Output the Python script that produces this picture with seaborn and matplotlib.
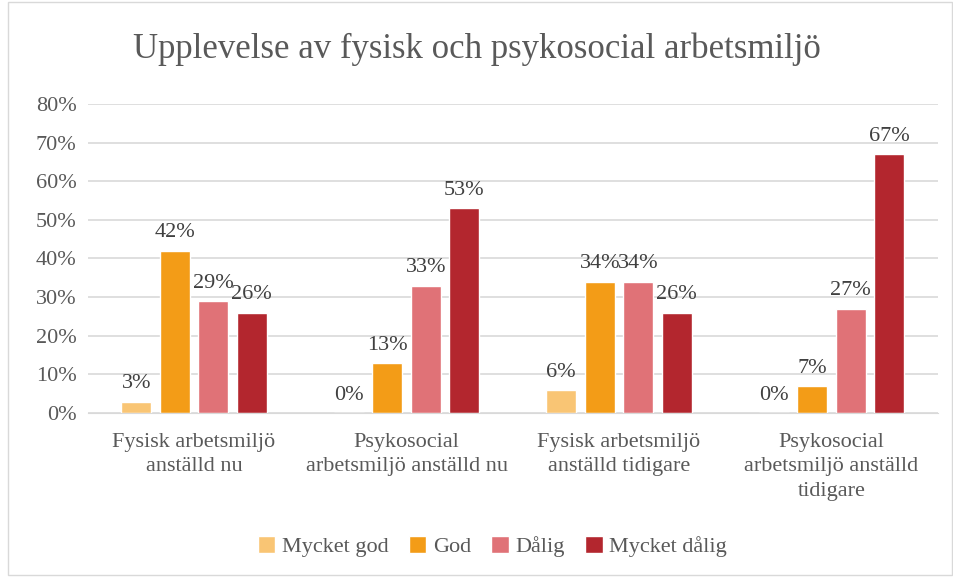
import matplotlib
matplotlib.use("Agg")
import matplotlib.pyplot as plt
import seaborn as sns
import pandas as pd

# categories and values (percent)
categories = ["Fysisk arbetsmiljö\nanställd nu",
              "Psykosocial\narbetsmiljö anställd nu",
              "Fysisk arbetsmiljö\nanställd tidigare",
              "Psykosocial\narbetsmiljö anställd\ntidigare"]
series = ["Mycket god", "God", "Dålig", "Mycket dålig"]
mycket_god = [3, 0, 6, 0]
god = [42, 13, 34, 7]
dalig = [29, 33, 34, 27]
mycket_dalig = [26, 53, 26, 67]
colors = ["#F9C574", "#F39C17", "#E07277", "#B3262E"]

rows = []
for s, vals in zip(series, [mycket_god, god, dalig, mycket_dalig]):
    for c, v in zip(categories, vals):
        rows.append({"kategori": c, "serie": s, "andel": v})
df = pd.DataFrame(rows)

sns.set_style("white")
plt.rcParams['font.family'] = ['Liberation Serif', 'DejaVu Serif']

fig = plt.figure(figsize=(9.54, 5.77), dpi=100)
ax = fig.add_axes([0.092, 0.284, 0.891, 0.536])

sns.barplot(data=df, x="kategori", y="andel", hue="serie", palette=colors,
            width=0.725, gap=0.22, ax=ax, legend=True, saturation=1)

# labels on top of bars
for cont in ax.containers:
    ax.bar_label(cont, fmt="%d%%", padding=6, fontsize=16, color="#404040")

ax.set_ylim(0, 80)
ax.set_yticks(range(0, 81, 10))
ax.set_yticklabels([f"{t}%" for t in range(0, 81, 10)], fontsize=16, color="#595959")
ax.tick_params(axis="x", labelsize=16, labelcolor="#595959", length=0, pad=14)
ax.tick_params(axis="y", length=0, pad=8)
for lab in ax.get_xticklabels():
    lab.set_linespacing(1.4)
ax.grid(axis="y", color="#d9d9d9", lw=1.2)
ax.set_axisbelow(True)
for sp in ["top", "right", "left"]:
    ax.spines[sp].set_visible(False)
ax.spines["bottom"].set_color("#d9d9d9")
ax.set_xlabel("")
ax.set_ylabel("")

fig.suptitle("Upplevelse av fysisk och psykosocial arbetsmiljö",
             y=0.943, fontsize=25, color="#595959")

ax.legend(loc="lower center", bbox_to_anchor=(0.476, -0.53), ncol=4, frameon=False,
          fontsize=16, labelcolor="#595959", handlelength=0.8, handleheight=0.8,
          handletextpad=0.3, columnspacing=0.9)

# outer border
fig.patches.append(plt.Rectangle((0.008, 0.003), 0.99, 0.994, transform=fig.transFigure,
                                 fill=False, edgecolor="#d9d9d9", lw=1))

fig.savefig("out.png", dpi=100)
